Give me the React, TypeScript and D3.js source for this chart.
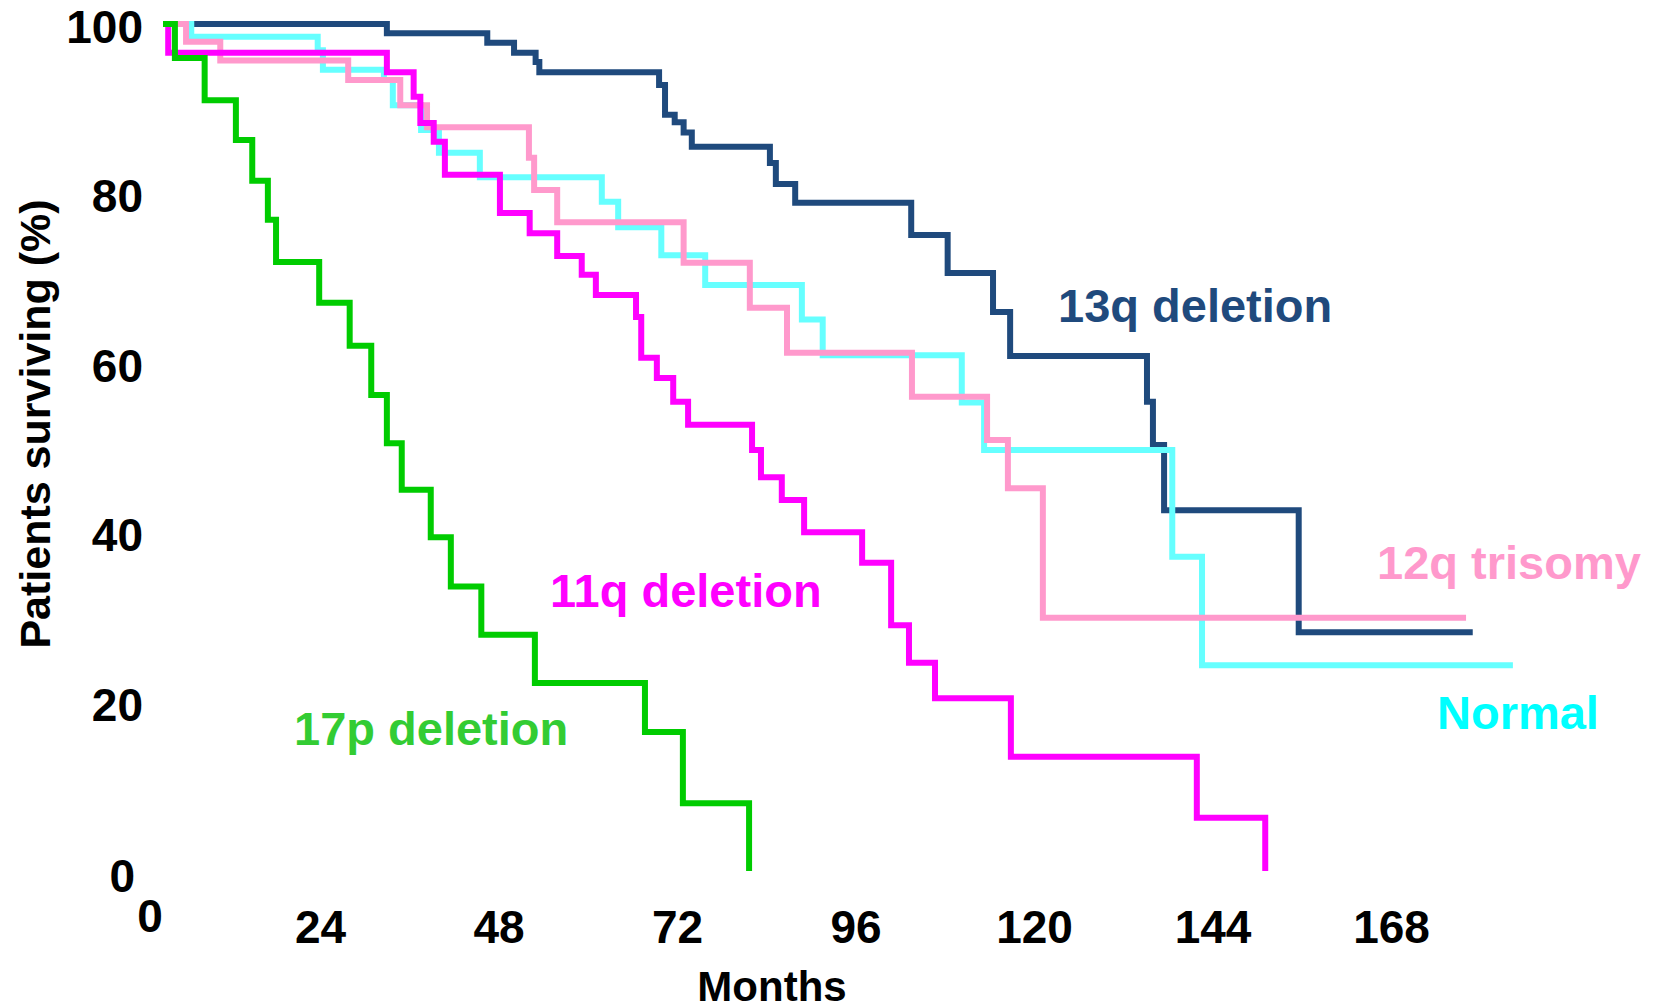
import React from "react";
import * as d3 from "d3";

const W = 1659;
const H = 1004;

// Kaplan-Meier step curves: months and % surviving
const del13qTimes = [0, 30.1, 43.6, 47.2, 50.1, 50.6, 66.7, 67.5, 68.8, 70.0, 71.1, 81.6, 82.4, 85.0, 100.6, 105.5, 111.6, 113.9, 132.3, 133.1, 134.6, 152.7, 176.1];
const del13qSurv = [100, 98.9, 97.8, 96.6, 95.5, 94.3, 92.8, 89.3, 88.4, 87.2, 85.5, 83.6, 81.1, 78.9, 75.1, 70.6, 66.0, 60.8, 55.4, 50.3, 42.6, 28.2, 28.2];

const normalTimes = [0, 3.8, 20.8, 21.5, 29.7, 30.9, 34.7, 37.1, 42.6, 59.0, 61.2, 67.0, 72.9, 85.9, 88.7, 107.4, 110.4, 135.7, 139.7, 181.5];
const normalSurv = [100, 98.5, 96.9, 94.6, 93.4, 90.4, 87.5, 84.8, 81.9, 79.0, 76.0, 72.7, 69.2, 65.1, 60.9, 55.3, 49.7, 37.1, 24.3, 24.3];

const tri12qTimes = [0, 3.1, 7.7, 24.9, 31.9, 35.5, 49.2, 49.9, 53.0, 70.0, 78.9, 83.9, 100.7, 110.8, 113.6, 118.3, 175.2];
const tri12qSurv = [100, 97.9, 95.7, 93.4, 90.4, 87.8, 84.2, 80.4, 76.6, 71.8, 66.5, 61.2, 56.0, 50.9, 45.2, 29.9, 29.9];

const del11qTimes = [0, 0.7, 30.1, 33.7, 34.6, 36.4, 37.9, 45.3, 49.3, 53.0, 56.3, 58.2, 63.6, 64.3, 66.4, 68.6, 70.6, 79.2, 80.4, 83.2, 86.2, 94.0, 97.9, 100.3, 103.8, 114.0, 139.0, 148.2];
const del11qSurv = [100, 96.6, 94.3, 91.4, 88.3, 86.1, 82.2, 77.7, 75.3, 72.6, 70.4, 68.0, 65.4, 60.6, 58.2, 55.4, 52.7, 49.7, 46.5, 43.8, 40.0, 36.4, 29.0, 24.6, 20.4, 13.5, 6.3, 0];

const del17pTimes = [0, 1.6, 5.6, 9.8, 12.0, 14.1, 15.2, 21.0, 25.1, 28.0, 30.1, 32.1, 36.0, 38.7, 42.8, 50.0, 64.8, 69.9, 78.8];
const del17pSurv = [100, 96.0, 91.0, 86.3, 81.5, 76.9, 71.9, 67.1, 62.0, 56.2, 50.5, 45.0, 39.4, 33.6, 27.9, 22.2, 16.4, 8.0, 0];

const xTicks = [0, 24, 48, 72, 96, 120, 144, 168];
const yTicks = [0, 20, 40, 60, 80, 100];

const series = [
  { name: "13q deletion", times: del13qTimes, surv: del13qSurv, color: "#1f4a7d", textColor: "#1f4a7d", lx: 1058, ly: 322 },
  { name: "Normal", times: normalTimes, surv: normalSurv, color: "#66ffff", textColor: "#00ffff", lx: 1437, ly: 729 },
  { name: "12q trisomy", times: tri12qTimes, surv: tri12qSurv, color: "#ff99cc", textColor: "#ff99cc", lx: 1377, ly: 579 },
  { name: "11q deletion", times: del11qTimes, surv: del11qSurv, color: "#ff00ff", textColor: "#ff00ff", lx: 550, ly: 607 },
  { name: "17p deletion", times: del17pTimes, surv: del17pSurv, color: "#00cc00", textColor: "#33cc33", lx: 294, ly: 745 },
];

const FONT = "'Liberation Sans', Arial, Helvetica, sans-serif";

export default function App() {
  const x = d3.scaleLinear().domain([0, 168]).range([163, 1412.5]);
  const y = d3.scaleLinear().domain([0, 100]).range([871, 24]);
  const line = d3
    .line<[number, number]>()
    .x((d) => x(d[0]))
    .y((d) => y(d[1]))
    .curve(d3.curveStepAfter);

  return (
    <svg
      width={W}
      height={H}
      viewBox={`0 0 ${W} ${H}`}
      style={{ position: "absolute", left: 0, top: 0, display: "block", background: "#fff" }}
      fontFamily={FONT}
      fontWeight="bold"
    >
      <rect x={0} y={0} width={W} height={H} fill="#fff" />
      {series.map((s) => {
        const pts = s.times.map((t, i) => [t, s.surv[i]] as [number, number]);
        return (
          <path
            key={s.name}
            d={line(pts) || ""}
            fill="none"
            stroke={s.color}
            strokeWidth={6}
            strokeLinejoin="miter"
            strokeLinecap="butt"
          />
        );
      })}
      {series.map((s) => (
        <text key={s.name + "-l"} x={s.lx} y={s.ly} fill={s.textColor} fontSize={47}>
          {s.name}
        </text>
      ))}
      {yTicks.map((t) => (
        <text
          key={"y" + t}
          x={t === 0 ? 135 : 143}
          y={y(t) + (t === 0 ? 21 : 19)}
          textAnchor="end"
          fontSize={46}
          fill="#000"
        >
          {t}
        </text>
      ))}
      {xTicks.map((t) => (
        <text
          key={"x" + t}
          x={t === 0 ? x(t) - 13 : x(t) - 21}
          y={t === 0 ? 932 : 943}
          textAnchor="middle"
          fontSize={46}
          fill="#000"
        >
          {t}
        </text>
      ))}
      <text x={772} y={1001} textAnchor="middle" fontSize={42} fill="#000">
        Months
      </text>
      <text
        transform={`translate(50, 424) rotate(-90)`}
        textAnchor="middle"
        fontSize={43}
        fill="#000"
      >
        Patients surviving (%)
      </text>
    </svg>
  );
}
